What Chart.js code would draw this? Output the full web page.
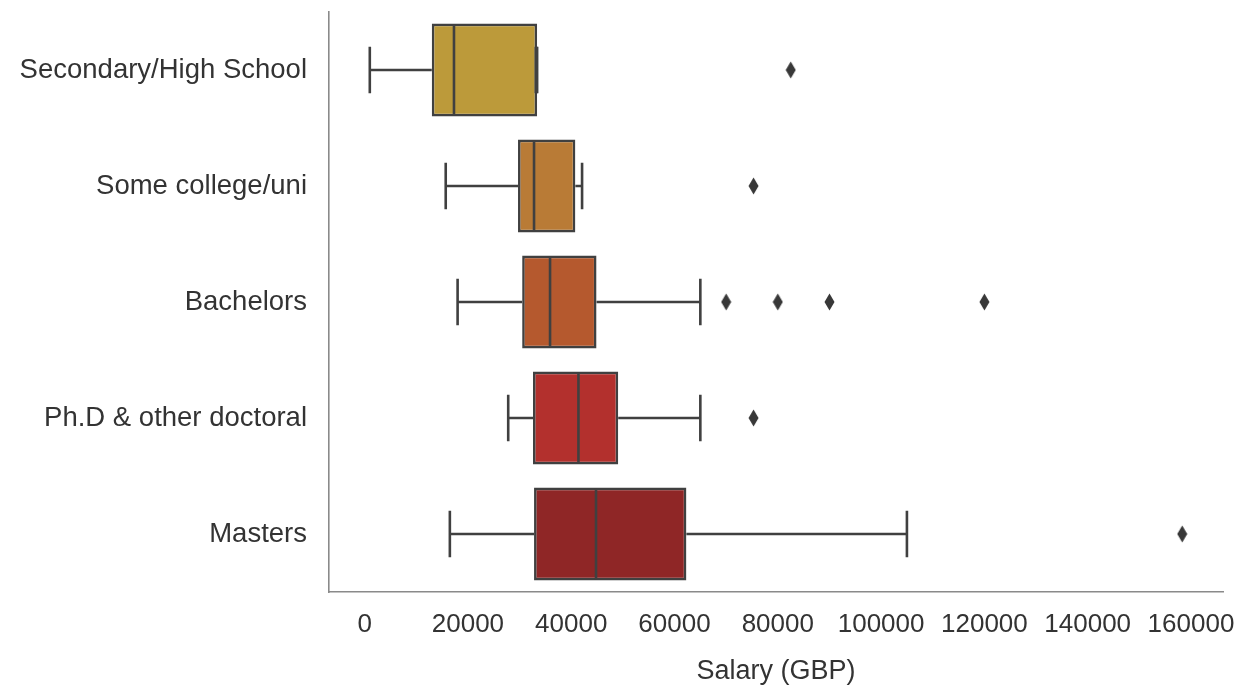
<!DOCTYPE html>
<html>
<head>
<meta charset="utf-8">
<script src="https://cdn.jsdelivr.net/npm/chart.js@4/dist/chart.umd.min.js"></script>
<style>
  html, body { margin: 0; padding: 0; background: #ffffff; }
  #c { display: block; }
</style>
</head>
<body>
<canvas id="c" width="1244" height="696"></canvas>
<script>
// ---- data ----
const categories = ['Secondary/High School', 'Some college/uni', 'Bachelors', 'Ph.D & other doctoral', 'Masters'];
const whiskerLow  = [1000, 15700, 18000, 27800, 16500];
const q1          = [13000, 29700, 30500, 32600, 32800];
const median      = [17300, 32800, 35900, 41400, 44800];
const q3          = [33400, 40800, 44900, 49100, 62300];
const whiskerHigh = [33400, 42100, 65000, 65000, 105000];
const outlierCategory = ['Secondary/High School', 'Some college/uni', 'Bachelors', 'Bachelors', 'Bachelors', 'Bachelors', 'Ph.D & other doctoral', 'Masters'];
const outlierValue    = [82500, 75300, 70000, 80000, 90000, 120000, 75300, 158300];
const xTicks = [0, 20000, 40000, 60000, 80000, 100000, 120000, 140000, 160000];
const boxColors = ['#bc9a3a', '#b97b36', '#b5592e', '#b3302d', '#8f2626'];

const lineColor = '#404040';
const lineW = 2.6;
const textColor = '#333333';
const fontFamily = "'Liberation Sans', Arial, sans-serif";

// thin diamond marker (seaborn 'd')
const diamond = document.createElement('canvas');
diamond.width = 11; diamond.height = 18;
(function () {
  const g = diamond.getContext('2d');
  g.fillStyle = '#383838';
  g.beginPath();
  g.moveTo(5.5, 0.5); g.lineTo(10.5, 9); g.lineTo(5.5, 17.5); g.lineTo(0.5, 9);
  g.closePath(); g.fill();
})();

const boxParts = {
  id: 'boxParts',
  beforeDatasetsDraw(chart) {
    const ctx = chart.ctx, x = chart.scales.x;
    const meta = chart.getDatasetMeta(0);
    ctx.save();
    ctx.strokeStyle = lineColor; ctx.lineWidth = lineW; ctx.lineCap = 'butt';
    meta.data.forEach((bar, i) => {
      const yc = bar.y, capH = bar.height / 2;
      const xl = x.getPixelForValue(whiskerLow[i]), xq1 = x.getPixelForValue(q1[i]);
      const xq3 = x.getPixelForValue(q3[i]), xh = x.getPixelForValue(whiskerHigh[i]);
      ctx.beginPath();
      ctx.moveTo(xl, yc); ctx.lineTo(xq1, yc);
      ctx.moveTo(xq3, yc); ctx.lineTo(xh, yc);
      ctx.moveTo(xl, yc - capH / 2); ctx.lineTo(xl, yc + capH / 2);
      ctx.moveTo(xh, yc - capH / 2); ctx.lineTo(xh, yc + capH / 2);
      ctx.stroke();
    });
    ctx.restore();
  },
  afterDatasetsDraw(chart) {
    const ctx = chart.ctx, x = chart.scales.x;
    const meta = chart.getDatasetMeta(0);
    ctx.save();
    ctx.strokeStyle = lineColor; ctx.lineWidth = lineW;
    meta.data.forEach((bar, i) => {
      const xm = x.getPixelForValue(median[i]);
      ctx.beginPath();
      ctx.moveTo(xm, bar.y - bar.height / 2 + 1);
      ctx.lineTo(xm, bar.y + bar.height / 2 - 1);
      ctx.stroke();
      const xh = x.getPixelForValue(whiskerHigh[i]);
      if (whiskerHigh[i] === q3[i]) {
        ctx.beginPath();
        ctx.moveTo(xh - 1, bar.y - bar.height / 4);
        ctx.lineTo(xh - 1, bar.y + bar.height / 4);
        ctx.lineWidth = 3.2; ctx.stroke();
        ctx.lineWidth = lineW;
      }
    });
    ctx.restore();
  }
};

new Chart(document.getElementById('c'), {
  type: 'bar',
  data: {
    labels: categories,
    datasets: [
      {
        type: 'bar',
        indexAxis: 'y',
        data: categories.map((c, i) => [q1[i], q3[i]]),
        backgroundColor: boxColors,
        borderColor: lineColor,
        borderWidth: lineW,
        borderSkipped: false,
        barPercentage: 0.8,
        categoryPercentage: 1.0
      },
      {
        type: 'scatter',
        data: outlierValue.map((v, i) => ({ x: v, y: outlierCategory[i] })),
        pointStyle: diamond,
        pointRadius: 6,
        showLine: false
      }
    ]
  },
  plugins: [boxParts],
  options: {
    indexAxis: 'y',
    responsive: false,
    animation: false,
    devicePixelRatio: 1,
    layout: { padding: { top: 12, right: 21, left: 0, bottom: 0 } },
    plugins: { legend: { display: false }, tooltip: { enabled: false }, title: { display: false } },
    scales: {
      x: {
        type: 'linear',
        position: 'bottom',
        min: -6900,
        max: 166200,
        afterBuildTicks: (s) => { s.ticks = xTicks.map(v => ({ value: v })); },
        afterFit: (s) => { s.height = 104; s.paddingLeft = 0; s.paddingRight = 0; },
        grid: { display: false, drawTicks: false },
        border: { display: true, color: '#8a8a8a', width: 1.6 },
        ticks: {
          color: textColor,
          font: { family: fontFamily, size: 26 },
          padding: 17,
          maxRotation: 0,
          autoSkip: false,
          callback: (v) => String(v)
        },
        title: {
          display: true,
          text: 'Salary (GBP)',
          color: textColor,
          font: { family: fontFamily, size: 27 },
          padding: { top: 0, bottom: 8 }
        }
      },
      y: {
        type: 'category',
        position: 'left',
        offset: true,
        afterFit: (s) => { s.width = 329; s.paddingTop = 0; s.paddingBottom = 0; },
        grid: { display: false, drawTicks: false },
        border: { display: true, color: '#8a8a8a', width: 1.6 },
        ticks: {
          color: textColor,
          font: { family: fontFamily, size: 27.5 },
          padding: 22,
          autoSkip: false
        }
      }
    }
  }
});
</script>
</body>
</html>
